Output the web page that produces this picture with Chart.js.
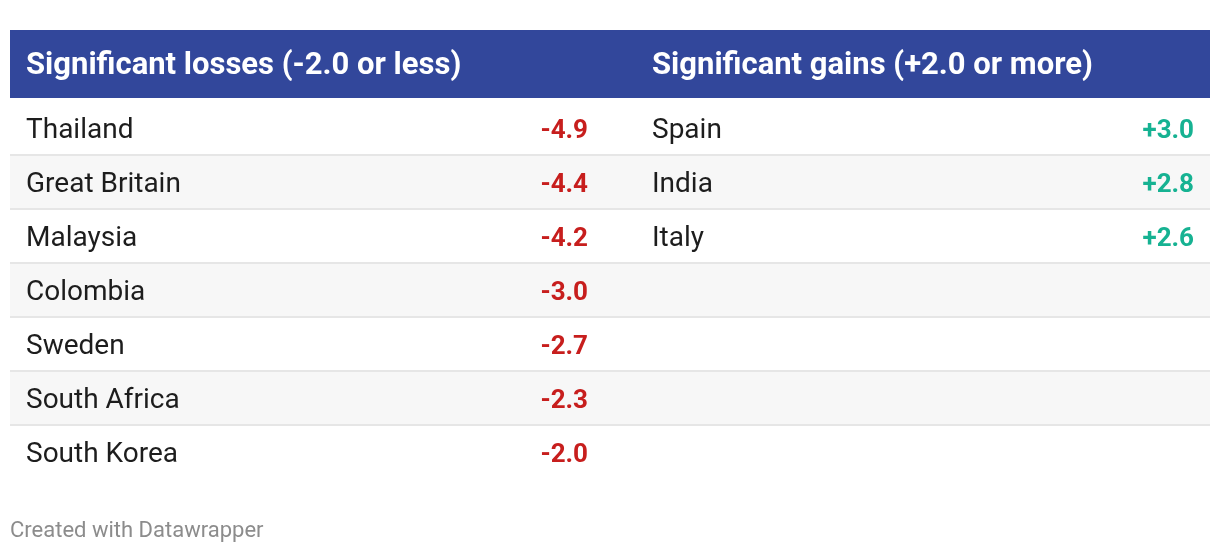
<!DOCTYPE html>
<html>
<head>
<meta charset="utf-8">
<script src="https://cdn.jsdelivr.net/npm/chart.js@4"></script>
<style>
  body { margin: 0; background: #fff; }
  #wrap { width: 1220px; height: 554px; }
</style>
</head>
<body>
<div id="wrap"><canvas id="myChart" width="1220" height="554"></canvas></div>
<script>
const headers = ["Significant losses (-2.0 or less)", "Significant gains (+2.0 or more)"];
const lossCountries = ["Thailand", "Great Britain", "Malaysia", "Colombia", "Sweden", "South Africa", "South Korea"];
const lossValues = [-4.9, -4.4, -4.2, -3.0, -2.7, -2.3, -2.0];
const gainCountries = ["Spain", "India", "Italy"];
const gainValues = [3.0, 2.8, 2.6];
const rowLabels = ["1", "2", "3", "4", "5", "6", "7"];

const headBg = "#32479b";
const red = "#c71e1d";
const green = "#16b292";
const font = "Roboto";

function fmt(v) {
	return (v > 0 ? "+" : "") + v.toFixed(1);
}

// row backgrounds, header, text - positions come from the scales
const tablePlugin = {
	id: "table",
	beforeDatasetsDraw(chart) {
		const ctx = chart.ctx;
		const a = chart.chartArea;
		const y = chart.scales.y;
		const rowH = (a.bottom - a.top) / rowLabels.length;
		ctx.save();
		rowLabels.forEach((r, i) => {
			const c = y.getPixelForValue(i);
			if (i % 2 == 1) {
				ctx.fillStyle = "#f7f7f7";
				ctx.fillRect(a.left, c - rowH / 2, a.right - a.left, rowH);
			}
		});
		// separators after the fills so nothing covers them
		ctx.fillStyle = "#e6e6e6";
		rowLabels.forEach((r, i) => {
			if (i < rowLabels.length - 1) {
				const c = y.getPixelForValue(i);
				ctx.fillRect(a.left, Math.round(c + rowH / 2), a.right - a.left, 2);
			}
		});
		// header bar
		ctx.fillStyle = headBg;
		ctx.fillRect(a.left, 30, a.right - a.left, 68);
		ctx.restore();
	},
	afterDatasetsDraw(chart) {
		const ctx = chart.ctx;
		const x = chart.scales.x;
		const y = chart.scales.y;
		const colLeft = [x.getPixelForValue(0) + 16, x.getPixelForValue(1) + 42];
		const colRight = [x.getPixelForValue(1) - 22, x.getPixelForValue(2) - 16];
		ctx.save();
		ctx.textBaseline = "middle";

		ctx.fillStyle = "#fff";
		ctx.font = "bold 31px " + font;
		ctx.textAlign = "left";
		headers.forEach((h, k) => ctx.fillText(h, colLeft[k], 66));

		const cols = [[lossCountries, lossValues, red], [gainCountries, gainValues, green]];
		cols.forEach((col, k) => {
			col[0].forEach((name, i) => {
				const cy = y.getPixelForValue(i) + 4;
				ctx.font = "28px " + font;
				ctx.fillStyle = "#1d1d1d";
				ctx.textAlign = "left";
				ctx.fillText(name, colLeft[k], cy);
				ctx.font = "bold 26px " + font;
				ctx.fillStyle = col[2];
				ctx.textAlign = "right";
				ctx.fillText(fmt(col[1][i]), colRight[k], cy);
			});
		});

		ctx.font = "22px " + font;
		ctx.fillStyle = "#8c8c8c";
		ctx.textAlign = "left";
		ctx.fillText("Created with Datawrapper", 10, 531);
		ctx.restore();
	}
};

let myChart1 = document.getElementById("myChart").getContext("2d");

let chart1 = new Chart(myChart1, {
	type: "bar",
	data: {
		labels: rowLabels,
		datasets: [
			{ label: "losses", data: lossValues, backgroundColor: "rgba(0,0,0,0)" },
			{ label: "gains", data: gainValues, backgroundColor: "rgba(0,0,0,0)" }
		]
	},
	options: {
		indexAxis: "y",
		responsive: false,
		animation: false,
		events: [],
		layout: { padding: { top: 100, bottom: 76, left: 10, right: 10 } },
		scales: {
			x: { type: "linear", min: 0, max: 2, display: false },
			y: { type: "category", offset: true, display: false }
		},
		plugins: {
			legend: { display: false },
			tooltip: { enabled: false }
		}
	},
	plugins: [tablePlugin]
});
</script>
</body>
</html>
